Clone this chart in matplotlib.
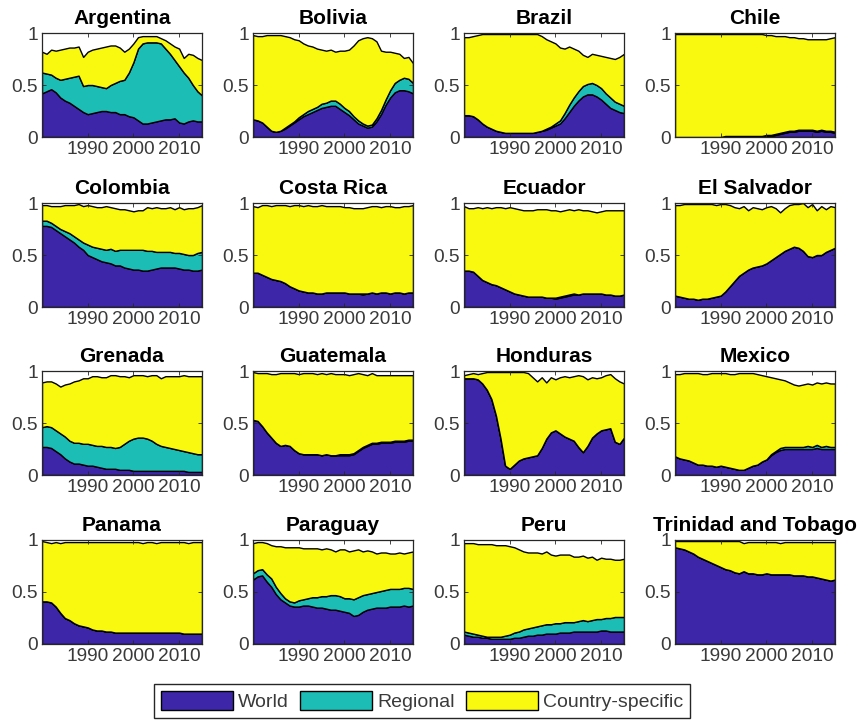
import matplotlib
matplotlib.use("Agg")
import matplotlib.pyplot as plt
from matplotlib.patches import Patch
import numpy as np

plt.rcParams['font.family'] = ['Liberation Sans', 'DejaVu Sans']

years = list(range(1980, 2016))
series_names = ["World", "Regional", "Country-specific"]
colors = ["#3E26A8", "#1CBDB4", "#F9F90F"]
yticks = [0, 0.5, 1]
ytick_labels = ["0", "0.5", "1"]
xticks = [1990, 2000, 2010]
xtick_labels = ["1990", "2000", "2010"]

# ---------------- data (shares, 1980..2015) ----------------
argentina_world = [.42,.44,.46,.43,.38,.35,.33,.30,.27,.24, .22,.23,.24,.25,.25,.24,.24,.22,.22,.20, .19,.16,.13,.13,.14,.15,.16,.17,.17,.18, .14,.13,.15,.16,.15,.15]
argentina_regional = [.20,.17,.14,.14,.17,.21,.24,.28,.32,.25, .28,.27,.25,.23,.22,.26,.28,.32,.33,.42, .53,.69,.77,.78,.77,.76,.74,.68,.63,.56, .54,.49,.42,.34,.29,.25]
argentina_country = [.20,.19,.24,.26,.29,.29,.29,.28,.28,.28, .32,.34,.36,.38,.40,.38,.36,.32,.27,.23, .18,.11,.07,.06,.06,.06,.05,.08,.10,.13, .17,.14,.23,.29,.32,.34]

bolivia_world = [.17,.16,.14,.10,.06,.05,.06,.08,.11,.14, .17,.20,.22,.24,.26,.28,.29,.30,.30,.27, .24,.21,.17,.13,.11,.09,.10,.15,.22,.31, .38,.43,.45,.45,.44,.42]
bolivia_regional = [.00,.00,.00,.00,.00,.00,.00,.01,.01,.01, .02,.02,.03,.03,.03,.04,.04,.05,.05,.05, .04,.04,.03,.03,.02,.02,.02,.03,.04,.05, .07,.09,.10,.12,.12,.10]
bolivia_country = [.81,.81,.83,.88,.92,.93,.92,.88,.84,.79, .74,.68,.63,.60,.56,.52,.50,.49,.47,.51, .55,.59,.68,.77,.82,.85,.83,.74,.57,.46, .37,.29,.25,.19,.21,.19]

brazil_world = [.21,.21,.20,.17,.13,.10,.08,.06,.05,.04, .04,.04,.04,.04,.04,.04,.05,.06,.07,.09, .11,.13,.18,.24,.30,.35,.39,.41,.41,.39, .36,.32,.28,.26,.24,.23]
brazil_regional = [.00,.00,.00,.00,.00,.00,.00,.00,.00,.00, .00,.00,.00,.00,.00,.00,.00,.00,.01,.01, .02,.03,.05,.07,.08,.09,.10,.10,.11,.11, .11,.10,.10,.08,.08,.07]
brazil_country = [.75,.75,.77,.81,.86,.89,.91,.93,.94,.95, .95,.95,.95,.95,.95,.95,.94,.91,.86,.82, .77,.70,.62,.56,.47,.39,.30,.26,.28,.29, .31,.35,.38,.41,.45,.50]

chile_world = [.00,.00,.00,.00,.00,.00,.00,.00,.00,.00, .00,.00,.00,.00,.00,.00,.00,.00,.00,.00, .01,.01,.02,.03,.04,.05,.05,.06,.06,.06, .06,.05,.06,.05,.05,.04]
chile_regional = [.00,.00,.00,.00,.00,.00,.00,.00,.00,.00, .00,.01,.01,.01,.01,.01,.01,.01,.01,.01, .01,.01,.01,.01,.01,.01,.01,.01,.01,.01, .01,.01,.01,.01,.01,.01]
chile_country = [.99,.99,.99,.99,.99,.99,.99,.99,.99,.99, .99,.98,.98,.98,.98,.98,.98,.98,.98,.98, .96,.96,.94,.93,.92,.90,.90,.88,.88,.87, .87,.88,.87,.88,.89,.91]

colombia_world = [.78,.78,.77,.74,.71,.68,.65,.62,.58,.55, .50,.48,.46,.44,.43,.42,.40,.40,.38,.37, .36,.36,.35,.35,.36,.37,.38,.38,.38,.38, .37,.36,.36,.35,.35,.36]
colombia_regional = [.05,.05,.04,.04,.04,.05,.06,.06,.07,.07, .10,.10,.11,.12,.12,.14,.14,.15,.17,.18, .19,.19,.20,.19,.18,.16,.15,.15,.15,.14, .15,.15,.14,.15,.17,.17]
colombia_country = [.15,.15,.16,.19,.22,.25,.27,.30,.34,.35, .38,.39,.39,.40,.42,.40,.41,.39,.39,.38, .37,.38,.38,.42,.41,.43,.42,.42,.43,.42, .44,.43,.45,.45,.44,.45]

costa_rica_world = [.33,.33,.31,.29,.27,.26,.25,.23,.20,.18, .16,.15,.14,.14,.13,.13,.14,.14,.14,.14, .14,.13,.13,.13,.12,.13,.14,.13,.14,.14, .13,.14,.14,.13,.14,.14]
costa_rica_regional = [.00,.00,.00,.00,.00,.00,.00,.00,.00,.00, .00,.00,.00,.00,.00,.00,.00,.00,.00,.00, .00,.00,.00,.00,.01,.00,.00,.00,.00,.00, .00,.00,.00,.00,.00,.00]
costa_rica_country = [.64,.63,.67,.69,.70,.72,.73,.75,.77,.80, .82,.82,.84,.83,.84,.85,.83,.83,.83,.83, .82,.83,.82,.82,.82,.83,.83,.84,.82,.83, .84,.82,.82,.84,.83,.84]

ecuador_world = [.35,.35,.34,.30,.26,.24,.22,.21,.19,.17, .15,.13,.12,.11,.10,.10,.10,.10,.09,.09, .08,.09,.10,.11,.12,.12,.13,.13,.13,.13, .13,.12,.12,.11,.11,.12]
ecuador_regional = [.00,.00,.00,.00,.00,.00,.00,.00,.00,.00, .00,.00,.00,.00,.00,.00,.00,.00,.00,.00, .01,.01,.01,.01,.01,.00,.00,.00,.00,.00, .00,.00,.00,.00,.00,.00]
ecuador_country = [.62,.60,.61,.66,.69,.72,.73,.75,.77,.78, .81,.82,.82,.82,.83,.83,.84,.84,.85,.84, .84,.82,.82,.82,.80,.82,.80,.80,.79,.78, .79,.81,.81,.82,.82,.81]

el_salvador_world = [.11,.10,.09,.08,.08,.07,.08,.08,.09,.10, .11,.15,.20,.25,.30,.33,.36,.38,.39,.40, .42,.45,.48,.51,.54,.56,.58,.57,.54,.49, .48,.50,.50,.53,.55,.57]
el_salvador_regional = [.00,.00,.00,.00,.00,.00,.00,.00,.00,.00, .00,.00,.00,.00,.00,.00,.00,.00,.00,.00, .00,.00,.00,.00,.00,.00,.00,.00,.00,.00, .00,.00,.00,.00,.00,.00]
el_salvador_country = [.87,.88,.90,.91,.91,.92,.91,.91,.90,.88, .88,.84,.78,.71,.65,.64,.57,.58,.56,.54, .54,.52,.47,.40,.41,.42,.41,.42,.46,.47, .51,.43,.47,.41,.42,.39]

grenada_world = [.27,.27,.26,.23,.20,.16,.13,.11,.11,.10, .09,.09,.08,.07,.06,.06,.06,.05,.05,.05, .04,.04,.04,.04,.04,.04,.04,.04,.04,.04, .04,.04,.03,.03,.03,.03]
grenada_regional = [.19,.20,.20,.20,.20,.21,.20,.20,.20,.20, .21,.20,.20,.21,.21,.21,.20,.22,.25,.28, .31,.32,.32,.31,.29,.26,.24,.23,.22,.21, .20,.19,.19,.18,.17,.17]
grenada_country = [.43,.43,.44,.45,.45,.50,.55,.59,.60,.63, .63,.66,.67,.66,.67,.69,.70,.68,.65,.61, .61,.60,.60,.60,.63,.66,.65,.68,.69,.70, .71,.73,.73,.74,.75,.75]

guatemala_world = [.53,.52,.47,.41,.36,.31,.28,.29,.28,.24, .21,.20,.20,.20,.20,.19,.20,.19,.19,.19, .19,.19,.20,.23,.26,.28,.30,.30,.31,.31, .31,.32,.32,.32,.33,.33]
guatemala_regional = [.00,.00,.00,.00,.00,.00,.00,.00,.00,.00, .00,.00,.00,.00,.00,.00,.00,.00,.00,.01, .01,.01,.01,.01,.01,.01,.01,.01,.01,.01, .01,.01,.01,.01,.01,.01]
guatemala_country = [.46,.46,.51,.57,.61,.66,.70,.69,.70,.74, .76,.78,.78,.78,.77,.79,.77,.79,.78,.77, .77,.76,.76,.74,.70,.67,.67,.65,.64,.64, .64,.63,.63,.63,.62,.62]

honduras_world = [.93,.93,.93,.92,.88,.82,.73,.57,.35,.09, .06,.10,.14,.16,.17,.18,.19,.26,.35,.41, .43,.40,.37,.35,.33,.27,.22,.28,.36,.40, .43,.44,.45,.32,.30,.36]
honduras_regional = [.00,.00,.00,.00,.00,.00,.00,.00,.00,.00, .00,.00,.00,.00,.00,.00,.00,.00,.00,.00, .00,.00,.00,.00,.00,.00,.00,.00,.00,.00, .00,.00,.00,.00,.00,.00]
honduras_country = [.03,.04,.05,.05,.10,.17,.26,.42,.64,.90, .93,.89,.85,.83,.81,.76,.71,.68,.54,.53, .49,.54,.58,.59,.62,.69,.73,.64,.58,.53, .51,.52,.52,.61,.60,.52]

mexico_world = [.18,.16,.15,.14,.12,.10,.10,.09,.09,.08, .09,.08,.07,.06,.05,.05,.07,.09,.10,.13, .15,.19,.22,.24,.25,.25,.25,.25,.25,.25, .25,.26,.25,.25,.25,.25]
mexico_regional = [.00,.00,.00,.00,.00,.00,.00,.00,.00,.00, .00,.00,.00,.00,.00,.00,.00,.00,.00,.00, .00,.01,.01,.02,.02,.02,.02,.02,.02,.03, .02,.03,.02,.03,.02,.02]
mexico_country = [.79,.81,.83,.84,.86,.88,.87,.88,.89,.90, .89,.90,.90,.91,.93,.93,.91,.89,.87,.83, .80,.74,.70,.66,.64,.62,.60,.59,.60,.60, .60,.60,.61,.61,.61,.61]

panama_world = [.41,.41,.40,.36,.30,.25,.23,.20,.18,.17, .16,.14,.13,.13,.12,.12,.11,.11,.11,.11, .11,.11,.11,.11,.11,.11,.11,.11,.11,.11, .11,.10,.10,.10,.10,.10]
panama_regional = [.00,.00,.00,.00,.00,.00,.00,.00,.00,.00, .00,.00,.00,.00,.00,.00,.00,.00,.00,.00, .00,.00,.00,.00,.00,.00,.00,.00,.00,.00, .00,.00,.00,.00,.00,.00]
panama_country = [.58,.57,.57,.62,.67,.73,.75,.78,.80,.81, .82,.84,.85,.85,.86,.86,.87,.87,.87,.87, .87,.87,.86,.87,.87,.86,.87,.87,.87,.87, .87,.88,.87,.88,.88,.88]

paraguay_world = [.62,.65,.66,.60,.55,.48,.43,.40,.37,.36, .36,.37,.37,.36,.35,.35,.34,.33,.33,.32, .31,.30,.27,.28,.31,.33,.34,.35,.35,.35, .36,.36,.36,.37,.36,.37]
paraguay_regional = [.06,.06,.06,.07,.08,.07,.06,.04,.04,.04, .06,.06,.07,.09,.10,.11,.12,.14,.14,.14, .13,.14,.16,.17,.16,.15,.15,.15,.16,.17, .17,.17,.17,.17,.18,.16]
paraguay_country = [.29,.27,.26,.30,.32,.39,.45,.49,.52,.53, .51,.49,.48,.47,.47,.45,.46,.44,.42,.45, .47,.45,.47,.46,.42,.42,.40,.37,.37,.36, .34,.34,.35,.33,.34,.36]

peru_world = [.09,.08,.07,.07,.06,.06,.05,.05,.05,.05, .05,.06,.06,.07,.08,.08,.09,.09,.10,.10, .10,.11,.11,.11,.12,.12,.12,.12,.12,.12, .13,.13,.12,.12,.12,.12]
peru_regional = [.03,.03,.03,.02,.02,.01,.02,.02,.02,.03, .04,.05,.06,.07,.07,.08,.08,.09,.09,.09, .10,.09,.10,.10,.09,.10,.11,.10,.11,.12, .11,.12,.13,.14,.14,.14]
peru_country = [.85,.86,.87,.87,.88,.89,.89,.88,.88,.87, .85,.82,.79,.75,.73,.72,.71,.69,.70,.67, .65,.66,.65,.65,.63,.62,.62,.61,.61,.57, .59,.57,.57,.55,.55,.56]

trinidad_world = [.93,.92,.91,.89,.87,.84,.82,.80,.78,.76, .74,.72,.71,.69,.68,.70,.68,.68,.67,.67, .68,.67,.67,.67,.67,.67,.66,.66,.66,.65, .65,.64,.63,.62,.61,.62]
trinidad_regional = [.00,.00,.00,.00,.00,.00,.00,.00,.00,.00, .00,.00,.00,.00,.00,.00,.00,.00,.00,.00, .00,.00,.00,.00,.00,.00,.00,.00,.00,.00, .00,.00,.00,.00,.00,.00]
trinidad_country = [.06,.07,.08,.10,.12,.15,.17,.19,.21,.23, .25,.27,.28,.30,.31,.27,.30,.30,.31,.31, .30,.31,.31,.30,.31,.31,.32,.32,.32,.33, .33,.34,.35,.36,.37,.36]

countries = ["Argentina", "Bolivia", "Brazil", "Chile",
             "Colombia", "Costa Rica", "Ecuador", "El Salvador",
             "Grenada", "Guatemala", "Honduras", "Mexico",
             "Panama", "Paraguay", "Peru", "Trinidad and Tobago"]

panels = [
    (argentina_world, argentina_regional, argentina_country),
    (bolivia_world, bolivia_regional, bolivia_country),
    (brazil_world, brazil_regional, brazil_country),
    (chile_world, chile_regional, chile_country),
    (colombia_world, colombia_regional, colombia_country),
    (costa_rica_world, costa_rica_regional, costa_rica_country),
    (ecuador_world, ecuador_regional, ecuador_country),
    (el_salvador_world, el_salvador_regional, el_salvador_country),
    (grenada_world, grenada_regional, grenada_country),
    (guatemala_world, guatemala_regional, guatemala_country),
    (honduras_world, honduras_regional, honduras_country),
    (mexico_world, mexico_regional, mexico_country),
    (panama_world, panama_regional, panama_country),
    (paraguay_world, paraguay_regional, paraguay_country),
    (peru_world, peru_regional, peru_country),
    (trinidad_world, trinidad_regional, trinidad_country),
]

for name, p in zip(countries, panels):
    for s in p:
        assert len(s) == len(years), (name, len(s))

# ---------------- figure ----------------
W, H = 864, 720
fig = plt.figure(figsize=(W / 100, H / 100), dpi=100)

col_left = [42, 253, 464, 675]
row_top = [33, 203, 371, 540]
ax_w, ax_h = 160, 104
frame_col = "#262626"

for i, (name, (w, r, c)) in enumerate(zip(countries, panels)):
    row, col = divmod(i, 4)
    l = col_left[col] / W
    b = 1 - (row_top[row] + ax_h) / H
    ax = fig.add_axes([l, b, ax_w / W, ax_h / H])
    ax.stackplot(years, w, r, c, colors=colors, edgecolor="black", linewidth=1.0)
    ax.set_xlim(years[0], years[-1])
    ax.set_ylim(0, 1)
    ax.set_xticks(xticks)
    ax.set_xticklabels(xtick_labels)
    ax.set_yticks(yticks)
    ax.set_yticklabels(ytick_labels)
    ax.tick_params(direction="in", length=3, width=0.6, color=frame_col,
                   labelsize=13.8, labelcolor="#3a3a3a", pad=3,
                   top=True, right=True)
    for sp in ax.spines.values():
        sp.set_color(frame_col)
        sp.set_linewidth(0.9)
    ax.set_title(name, fontsize=15, fontweight="bold", color="black", pad=6.5)

handles = [Patch(facecolor=col, edgecolor="black", linewidth=1.0) for col in colors]
leg = fig.legend(handles, series_names, loc="center", ncol=3,
                 bbox_to_anchor=(422 / W, 1 - 701 / H),
                 fontsize=14, handlelength=3.7, handleheight=1.1,
                 handletextpad=0.25, columnspacing=0.6, borderpad=0.35,
                 fancybox=False, framealpha=1, edgecolor=frame_col)
leg.get_frame().set_linewidth(1.0)
for t in leg.get_texts():
    t.set_color("#3a3a3a")

fig.savefig("out.png", dpi=100)
